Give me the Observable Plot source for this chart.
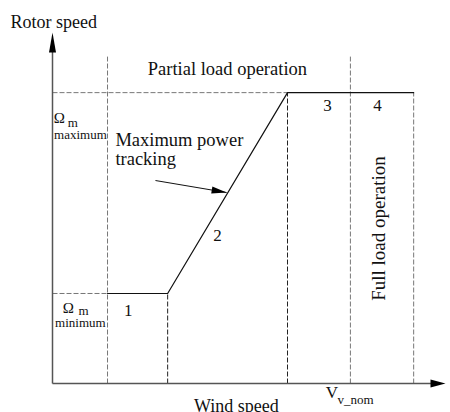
<!DOCTYPE html>
<html>
<head>
<meta charset="utf-8">
<script src="https://cdn.jsdelivr.net/npm/d3@7"></script>
<script src="https://cdn.jsdelivr.net/npm/@observablehq/plot@0.6"></script>
<style>
  html, body { margin: 0; padding: 0; background: #fff; }
  #chart svg { display: block; background: #fff; }
  #chart svg text { font-family: 'Liberation Serif', 'Times New Roman', Times, serif; }
</style>
</head>
<body>
<div id="chart"></div>
<script>
// ---- data (conceptual units: wind speed on x, rotor speed on y) ----
const curveWind  = [1.40, 2.93, 5.98, 9.19];
const curveRotor = [2.55, 2.55, 8.24, 8.24];

const boundaryWind = [1.40, 2.93, 5.98, 7.58, 9.19];
const boundaryTop  = [9.26, 2.55, 8.24, 9.26, 8.24];
const boundaryTone = ["guide", "region", "region", "guide", "guide"];

const levelRotor = [2.55, 8.24];
const levelEnd   = [1.40, 5.98];

const regionLabels = ["1", "2", "3", "4"];
const regionWind   = [1.93, 4.20, 7.00, 8.27];
const regionRotor  = [1.90, 4.05, 7.73, 7.73];

const axisEndWind = 10, axisEndRotor = 9.94;

const calloutFromWind = 2.62, calloutFromRotor = 5.75;
const calloutToWind = 4.43, calloutToRotor = 5.41;

// ---- layout ----
const W = 450, H = 412;
const mL = 52, mR = 5, mT = 30, mB = 29;
const xDom = [0, 10], yDom = [0, 10];
const kx = (W - mL - mR) / (xDom[1] - xDom[0]);
const ky = (H - mT - mB) / (yDom[1] - yDom[0]);
const serif = "'Liberation Serif', 'Times New Roman', Times, serif";

function tri(angleDeg, len, wid) {
  const a = angleDeg * Math.PI / 180;
  return {
    draw(ctx) {
      const c = Math.cos(a), s = Math.sin(a);
      const bx = -len * c, by = -len * s;
      const px = -s * wid / 2, py = c * wid / 2;
      ctx.moveTo(0, 0);
      ctx.lineTo(bx + px, by + py);
      ctx.lineTo(bx - px, by - py);
      ctx.closePath();
    }
  };
}

const curve = curveWind.map((w, i) => ({w, r: curveRotor[i]}));
const bounds = boundaryWind.map((w, i) => ({w, top: boundaryTop[i], tone: boundaryTone[i]}));
const levels = levelRotor.map((r, i) => ({r, end: levelEnd[i]}));
const regions = regionLabels.map((t, i) => ({t, w: regionWind[i], r: regionRotor[i]}));

const calloutAngle = Math.atan2((calloutFromRotor - calloutToRotor) * ky,
                                (calloutToWind - calloutFromWind) * kx) * 180 / Math.PI;

const txt = (text, x, y, opts = {}) =>
  Plot.text([text], {x: () => x, y: () => y, text: d => d, fontFamily: serif,
    fill: "#111", lineAnchor: "bottom", ...opts});

const chart = Plot.plot({
  width: W, height: H,
  marginLeft: mL, marginRight: mR, marginTop: mT, marginBottom: mB,
  style: {fontFamily: serif},
  x: {domain: xDom, axis: null},
  y: {domain: yDom, axis: null},
  marks: [
    // guide dashed lines
    Plot.link(bounds, {x1: "w", x2: "w", y1: () => 0, y2: "top",
      stroke: d => d.tone === "guide" ? "#777" : "#222",
      strokeDasharray: "5,2", strokeWidth: 1}),
    Plot.link(levels, {x1: () => 0, x2: "end", y1: "r", y2: "r",
      stroke: "#777", strokeDasharray: "5,2", strokeWidth: 1}),
    // operating curve
    Plot.line(curve, {x: "w", y: "r", stroke: "#111", strokeWidth: 1.2}),
    // axes
    Plot.link([0], {x1: () => 0, x2: () => 0, y1: () => 0, y2: () => axisEndRotor - 0.3,
      stroke: "#555", strokeWidth: 1.5}),
    Plot.link([0], {x1: () => 0, x2: () => axisEndWind - 0.3, y1: () => 0, y2: () => 0,
      stroke: "#555", strokeWidth: 1.5}),
    Plot.dot([0], {x: () => 0, y: () => axisEndRotor, symbol: tri(-90, 20, 7), fill: "#000", stroke: null, r: 5}),
    Plot.dot([0], {x: () => axisEndWind, y: () => 0, symbol: tri(0, 15, 8), fill: "#000", stroke: null, r: 5}),
    // callout arrow
    Plot.link([0], {x1: () => calloutFromWind, y1: () => calloutFromRotor,
      x2: () => calloutToWind, y2: () => calloutToRotor, stroke: "#111", strokeWidth: 1}),
    Plot.dot([0], {x: () => calloutToWind, y: () => calloutToRotor,
      symbol: tri(calloutAngle, 15, 7), fill: "#000", stroke: null, r: 5}),
    // region numbers
    Plot.text(regions, {x: "w", y: "r", text: "t", fontFamily: serif, fontSize: 17,
      fill: "#111", lineAnchor: "bottom"}),
    // labels
    txt("Rotor speed", -1.07, 10.06, {textAnchor: "start", fontSize: 18}),
    txt("Partial load operation", 4.45, 8.73, {fontSize: 18.5}),
    txt("Maximum power", 1.60, 6.74, {textAnchor: "start", fontSize: 18.5}),
    txt("tracking", 1.60, 6.18, {textAnchor: "start", fontSize: 18.5}),
    txt("Full load operation", 8.47, 4.39, {rotate: -90, fontSize: 19}),
    txt("Ω", 0.03, 7.39, {textAnchor: "start", fontSize: 15}),
    txt("m", 0.39, 7.28, {textAnchor: "start", fontSize: 13}),
    txt("maximum", 0.71, 6.94, {fontSize: 13}),
    txt("Ω", 0.26, 2.01, {textAnchor: "start", fontSize: 15}),
    txt("m", 0.66, 1.93, {textAnchor: "start", fontSize: 13}),
    txt("minimum", 0.71, 1.61, {fontSize: 13}),
    txt("V", 6.95, -0.42, {textAnchor: "start", fontSize: 17}),
    txt("v_nom", 7.25, -0.57, {textAnchor: "start", fontSize: 13}),
    txt("Wind speed", 4.68, -0.81, {fontSize: 18})
  ]
});
document.getElementById("chart").appendChild(chart);
</script>
</body>
</html>
